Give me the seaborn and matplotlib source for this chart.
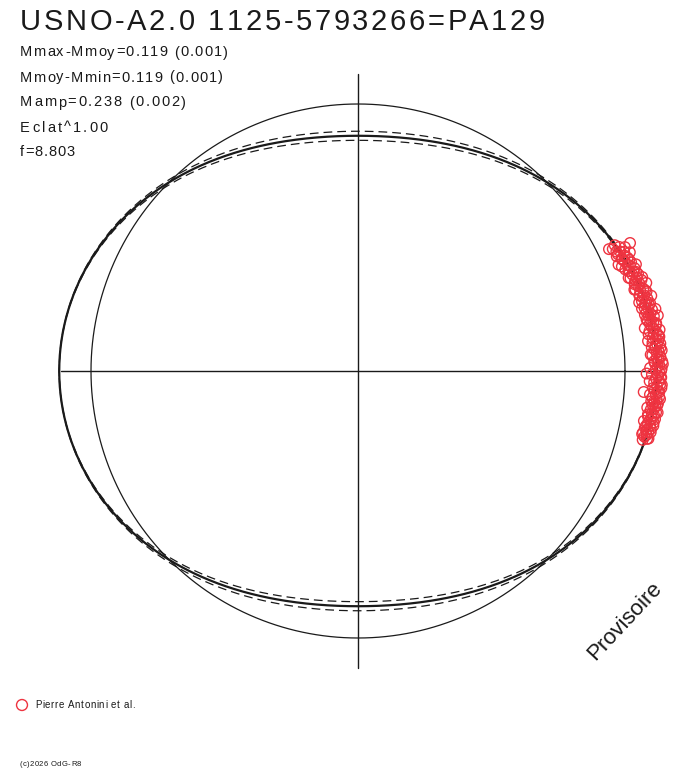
import numpy as np
import pandas as pd
import seaborn as sns
import matplotlib.pyplot as plt

# light curve summary
mmoy = 0.0
half_amp = 0.119      # Mmax-Mmoy = Mmoy-Mmin
env_err = 0.017       # spread of the dashed envelope at the poles

title = 'USNO-A2.0 1125-5793266=PA129'
info_lines = ['Mmax-Mmoy=0.119 (0.001)', 'Mmoy-Mmin=0.119 (0.001)',
              'Mamp=0.238 (0.002)', 'Eclat^1.00', 'f=8.803']
observer = 'Pierre Antonini et al.'

# observations: phase angle (deg) and magnitude relative to mean
phase_deg = [26.1, 25.9, 25.4, 25.2, 24.8, 24.5, 24.1, 23.9, 23.4, 23.1,
             22.8, 22.4, 22.2, 21.7, 21.5, 21.1, 20.8, 20.4, 20.2, 19.8,
             19.4, 19.1, 18.8, 18.5, 18.1, 17.8, 17.4, 17.2, 16.8, 16.4,
             16.1, 15.9, 15.4, 15.1, 14.8, 14.5, 14.1, 13.8, 13.5, 13.1,
             12.8, 12.4, 12.2, 11.8, 11.5, 11.1, 10.8, 10.5, 10.1, 9.8,
             9.4, 9.2, 8.8, 8.5, 8.1, 7.8, 7.5, 7.1, 6.8, 6.4,
             6.2, 5.8, 5.5, 5.1, 4.8, 4.4, 4.2, 3.8, 3.5, 3.1,
             2.8, 2.4, 2.2, 1.8, 1.5, 1.1, 0.8, 0.4, 0.2, -0.2,
             -0.5, -0.9, -1.2, -1.5, -1.9, -2.2, -2.5, -2.9, -3.2, -3.6,
             -3.8, -4.2, -4.5, -4.9, -5.2, -5.5, -5.9, -6.2, -6.6, -6.8,
             -7.2, -7.5, -7.9, -8.2, -8.5, -8.9, -9.2, -9.5, -9.9, -10.2,
             -10.6, -10.8, -11.2, -11.5, -11.9, -12.2, -12.5, -12.9, -13.2, -13.6]
dmag = [-0.071, -0.045, -0.083, -0.126, -0.066, -0.079, -0.092, -0.060, -0.088, -0.074,
        -0.095, -0.079, -0.054, -0.101, -0.086, -0.092, -0.071, -0.105, -0.083, -0.097,
        -0.089, -0.110, -0.078, -0.101, -0.094, -0.115, -0.086, -0.104, -0.097, -0.083,
        -0.112, -0.099, -0.121, -0.093, -0.108, -0.102, -0.117, -0.095, -0.111, -0.104,
        -0.118, -0.099, -0.112, -0.125, -0.103, -0.116, -0.108, -0.127, -0.098, -0.114,
        -0.121, -0.107, -0.130, -0.113, -0.119, -0.102, -0.126, -0.116, -0.133, -0.110,
        -0.122, -0.131, -0.108, -0.125, -0.117, -0.136, -0.113, -0.128, -0.121, -0.104,
        -0.133, -0.119, -0.126, -0.140, -0.112, -0.129, -0.122, -0.137, -0.115, -0.128,
        -0.081, -0.124, -0.136, -0.117, -0.129, -0.110, -0.133, -0.121, -0.138, -0.114,
        -0.126, -0.073, -0.119, -0.132, -0.107, -0.124, -0.115, -0.130, -0.111, -0.122,
        -0.118, -0.106, -0.127, -0.112, -0.121, -0.099, -0.116, -0.109, -0.124, -0.103,
        -0.113, -0.098, -0.118, -0.104, -0.111, -0.092, -0.107, -0.100, -0.112, -0.097]

# second night
phase2_deg = [25.6, 24.9, 24.2, 23.6, 22.9, 22.3, 21.6, 21.0, 20.3, 19.6,
              19.0, 18.3, 17.7, 17.0, 16.4, 15.7, 15.0, 14.4, 13.7, 13.1,
              12.4, 11.8, 11.1, 10.5, 9.8, 9.1, 8.5, 7.8, 7.2, 6.5,
              5.9, 5.2, 4.6, 3.9, 3.2, 2.6, 1.9, 1.3, 0.6, 0.0,
              -0.7, -1.3, -2.0, -2.6, -3.3, -4.0, -4.6, -5.3, -5.9, -6.6,
              -7.2, -7.9, -8.5, -9.2, -9.9, -10.5, -11.2, -11.8, -12.5, -13.1]
dmag2 = [-0.058, -0.102, -0.067, -0.111, -0.074, -0.098, -0.063, -0.115, -0.080, -0.106,
         -0.072, -0.121, -0.088, -0.129, -0.079, -0.117, -0.091, -0.134, -0.084, -0.123,
         -0.089, -0.138, -0.095, -0.142, -0.101, -0.131, -0.086, -0.140, -0.097, -0.136,
         -0.092, -0.137, -0.104, -0.140, -0.098, -0.134, -0.110, -0.142, -0.094, -0.135,
         -0.101, -0.134, -0.093, -0.139, -0.107, -0.131, -0.097, -0.136, -0.104, -0.128,
         -0.092, -0.133, -0.098, -0.127, -0.087, -0.125, -0.095, -0.120, -0.090, -0.117]

sns.set_theme(style='white')
plt.rcParams['font.family'] = ['Liberation Sans', 'DejaVu Sans']

W, H = 688, 768
cx, cy, R = 358, 371, 267   # pixel centre and unit radius

fig = plt.figure(figsize=(W / 100, H / 100), dpi=100)
ax = fig.add_axes([0, 0, 1, 1])
ax.set_xlim(-cx / R, (W - cx) / R)
ax.set_ylim(-(H - cy) / R, cy / R)
ax.axis('off')

ink = '#1a1a1a'
red = '#ee3340'

# reference unit circle
th = np.linspace(0, 2 * np.pi, 721)
circle = pd.DataFrame({'x': np.cos(th), 'y': np.sin(th)})
sns.lineplot(data=circle, x='x', y='y', sort=False, estimator=None,
             color=ink, lw=0.9, ax=ax)

# fitted light curve (polar form) with its envelope
fit_m = mmoy - half_amp * np.cos(2 * th)
env = env_err * np.sin(th) ** 2
for sgn, ls, lw in [(0, '-', 1.6), (1, (0, (7, 4)), 0.9), (-1, (0, (7, 4)), 0.9)]:
    r = 1 - (fit_m - mmoy) + sgn * env
    curve = pd.DataFrame({'x': r * np.cos(th), 'y': r * np.sin(th)})
    sns.lineplot(data=curve, x='x', y='y', sort=False, estimator=None,
                 color=ink, lw=lw, linestyle=ls, ax=ax)

# axes cross
rmax = 1 + half_amp - 0.007
ax.plot([-rmax, rmax], [0, 0], color=ink, lw=1.0)
ax.plot([0, 0], [-rmax, rmax], color=ink, lw=1.0)

# observations
a = np.radians(phase_deg + phase2_deg)
rr = 1 - np.array(dmag + dmag2)
obs = pd.DataFrame({'x': rr * np.cos(a), 'y': rr * np.sin(a)})
sns.scatterplot(data=obs, x='x', y='y', marker='o', s=58, facecolor='none',
                edgecolor=red, linewidth=1.0, ax=ax, zorder=5)

# texts (spread to the width of the original lettering)
renderer = fig.canvas.get_renderer()

def px(x, y):
    return x / W, 1 - y / H

def advance(ch, size):
    t1 = fig.text(0, 0, '|' + ch + '|', fontsize=size)
    t2 = fig.text(0, 0, '||', fontsize=size)
    w = t1.get_window_extent(renderer).width - t2.get_window_extent(renderer).width
    t1.remove()
    t2.remove()
    return w

def spaced_text(x, y, s, size, width):
    adv = [advance(ch, size) for ch in s]
    gap = (width - sum(adv)) / (len(s) - 1)
    for ch, w in zip(s, adv):
        fig.text(*px(x, y), ch, fontsize=size, color=ink, va='baseline')
        x += w + gap

spaced_text(20, 30, title, 21, 525)
info_width = [208, 203, 166, 88, 55]
for i, line in enumerate(info_lines):
    spaced_text(20, 56.5 + 25 * i, line, 10.5, info_width[i])

fig.text(*px(625, 621), 'Provisoire', fontsize=16, rotation=47, color=ink,
         ha='center', va='center')

ax.scatter((22 - cx) / R, (cy - 705) / R, s=62, facecolor='none',
           edgecolor=red, linewidth=1.0)
spaced_text(35, 708, observer, 7, 100)
spaced_text(20, 766, '(c)2026 OdG-R8', 5.5, 61)

fig.savefig('out.png', dpi=100, facecolor='white')
